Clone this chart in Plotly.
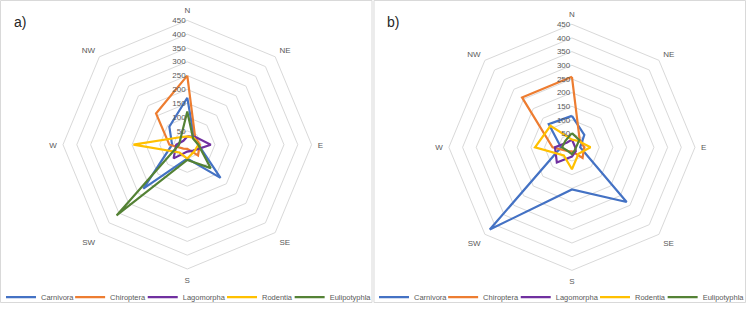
import plotly.graph_objects as go

directions = ["N", "NE", "E", "SE", "S", "SW", "W", "NW"]
series_names = ["Carnivora", "Chiroptera", "Lagomorpha", "Rodentia", "Eulipotyphla"]
colors = ["#4472C4", "#ED7D31", "#7030A0", "#FFC000", "#548235"]
radial_ticks = [50, 100, 150, 200, 250, 300, 350, 400, 450]

# Panel a
carnivora_a = [170, 35, 40, 170, 50, 225, 55, 92]
chiroptera_a = [250, 40, 45, 55, 15, 20, 65, 160]
lagomorpha_a = [30, 40, 85, 30, 25, 70, 40, 20]
rodentia_a = [30, 35, 40, 35, 50, 40, 195, 38]
eulipotyphla_a = [120, 30, 40, 120, 55, 362, 30, 34]

# Panel b
carnivora_b = [115, 64, 30, 283, 154, 425, 40, 120]
chiroptera_b = [258, 40, 45, 55, 15, 20, 71, 258]
lagomorpha_b = [28, 12, 12, 20, 34, 78, 62, 25]
rodentia_b = [28, 33, 68, 34, 80, 42, 135, 111]
eulipotyphla_b = [52, 38, 15, 15, 25, 20, 36, 34]

panel_a = [carnivora_a, chiroptera_a, lagomorpha_a, rodentia_a, eulipotyphla_a]
panel_b = [carnivora_b, chiroptera_b, lagomorpha_b, rodentia_b, eulipotyphla_b]

FONT = "Liberation Sans, Arial"
GRAY = "#595959"
W, H = 750, 312

# legend entry left edges (px) within a panel; panel b is offset by 375 px
legend_x_px = [1, 70.5, 143.5, 223.2, 291.2]
panel_offsets = [0, 375]

fig = go.Figure()
theta = directions + [directions[0]]
legend_layouts = {}
k = 1
for p, (panel, subplot) in enumerate([(panel_a, "polar"), (panel_b, "polar2")]):
    for i, (name, vals, col) in enumerate(zip(series_names, panel, colors)):
        k += 1
        lname = f"legend{k}"
        fig.add_trace(go.Scatterpolar(
            r=vals + [vals[0]], theta=theta, mode="lines", name=name,
            line=dict(color=col, width=2.2), subplot=subplot, legend=lname,
        ))
        legend_layouts[lname] = dict(
            x=(legend_x_px[i] + panel_offsets[p]) / W, xanchor="left",
            y=6 / H, yanchor="middle", orientation="h",
            font=dict(family=FONT, size=7.5, color=GRAY),
            bgcolor="rgba(0,0,0,0)", itemwidth=30,
        )

def polar_layout(domx, domy):
    return dict(
        domain=dict(x=domx, y=domy),
        bgcolor="white",
        gridshape="linear",
        radialaxis=dict(
            range=[0, 450], tickvals=radial_ticks, angle=90, tickangle=90,
            side="counterclockwise", showline=False, ticks="",
            gridcolor="#D9D9D9", gridwidth=1,
            tickfont=dict(family=FONT, size=8, color=GRAY),
        ),
        angularaxis=dict(
            direction="clockwise", rotation=90, showgrid=False, showline=True,
            linecolor="#D9D9D9", linewidth=1, ticks="outside", ticklen=4,
            tickcolor="rgba(0,0,0,0)",
            tickfont=dict(family=FONT, size=8, color=GRAY),
            categoryorder="array", categoryarray=directions,
        ),
    )

ca, ra = (188.3, 149.0), 128.0
cb, rb = (575.0, 151.7), 126.7

fig.update_layout(
    width=W, height=H, margin=dict(l=0, r=0, t=0, b=0),
    paper_bgcolor="white", plot_bgcolor="white",
    polar=polar_layout([(ca[0] - ra) / W, (ca[0] + ra) / W],
                       [(H - ca[1] - ra) / H, (H - ca[1] + ra) / H]),
    polar2=polar_layout([(cb[0] - rb) / W, (cb[0] + rb) / W],
                        [(H - cb[1] - rb) / H, (H - cb[1] + rb) / H]),
    shapes=[
        dict(type="rect", xref="paper", yref="paper", x0=0.5 / W, x1=374 / W, y0=0.5 / H, y1=1 - 0.5 / H,
             line=dict(color="#D9D9D9", width=1), layer="below"),
        dict(type="rect", xref="paper", yref="paper", x0=376 / W, x1=1 - 0.5 / W, y0=0.5 / H, y1=1 - 0.5 / H,
             line=dict(color="#D9D9D9", width=1), layer="below"),
    ],
    annotations=[
        dict(text="a)", x=12 / W, y=1 - 23 / H, xref="paper", yref="paper", xanchor="left",
             yanchor="middle", showarrow=False, font=dict(family="Liberation Sans", size=14, color="#262626")),
        dict(text="b)", x=387 / W, y=1 - 23 / H, xref="paper", yref="paper", xanchor="left",
             yanchor="middle", showarrow=False, font=dict(family="Liberation Sans", size=14, color="#262626")),
    ],
    **legend_layouts,
)

fig.write_html("out.html")
